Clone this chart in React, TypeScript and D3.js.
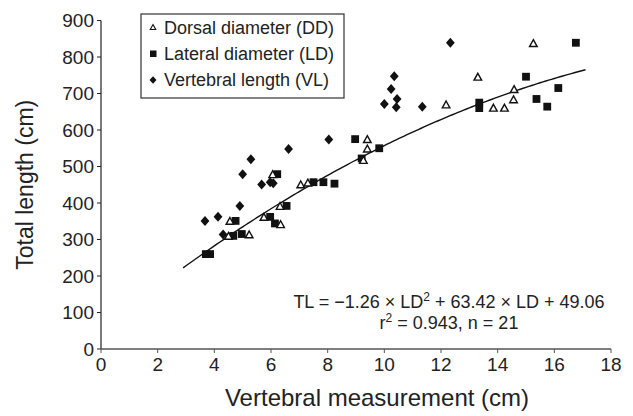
import React from "react";
import * as d3 from "d3";

// Dorsal diameter (DD) – open triangles
const ddX = [4.5, 4.55, 5.23, 5.75, 6.34, 6.32, 6.06, 7.05, 7.3, 9.4, 9.4, 9.26, 12.18, 13.3, 13.85, 14.24, 14.56, 14.58, 15.26];
const ddY = [310, 351, 314, 362, 342, 392, 479, 451, 456, 575, 549, 518, 670, 746, 661, 661, 684, 712, 838];

// Lateral diameter (LD) – filled squares
const ldX = [3.7, 3.85, 4.67, 4.97, 4.75, 5.97, 6.14, 6.55, 6.22, 7.5, 7.85, 8.24, 8.97, 9.2, 9.82, 13.35, 13.35, 15.0, 15.37, 15.75, 16.14, 16.76];
const ldY = [260, 260, 310, 315, 351, 362, 344, 392, 479, 457, 457, 453, 575, 522, 550, 675, 660, 746, 685, 664, 715, 839];

// Vertebral length (VL) – filled diamonds
const vlX = [3.67, 4.13, 4.31, 4.9, 5.0, 5.29, 5.67, 5.97, 6.08, 6.62, 8.04, 10.0, 10.24, 10.35, 10.42, 10.45, 11.34, 12.33];
const vlY = [351, 362, 314, 392, 479, 520, 451, 457, 454, 548, 574, 671, 712, 747, 662, 685, 664, 839];

const xTicks = [0, 2, 4, 6, 8, 10, 12, 14, 16, 18];
const yTicks = [0, 100, 200, 300, 400, 500, 600, 700, 800, 900];
const legendLabels = ["Dorsal diameter (DD)", "Lateral diameter (LD)", "Vertebral length (VL)"];
const fitCoef = [-1.26, 63.42, 49.06];
const fitRange = [2.9, 17.1];

const FONT = "'Liberation Sans', Arial, Helvetica, sans-serif";

function tri(cx: number, cy: number, s: number) {
  const h = s * 0.9;
  return `M${cx},${cy - h / 2}L${cx + s / 2},${cy + h / 2}L${cx - s / 2},${cy + h / 2}Z`;
}
function diamond(cx: number, cy: number, w: number, h: number) {
  return `M${cx},${cy - h}L${cx + w},${cy}L${cx},${cy + h}L${cx - w},${cy}Z`;
}

export default function App() {
  const W = 633, H = 416;
  const x = d3.scaleLinear().domain([0, 18]).range([101, 611]);
  const y = d3.scaleLinear().domain([0, 900]).range([349, 20.5]);

  const fitPts = d3.range(fitRange[0], fitRange[1] + 0.001, 0.1).map((v) => [v, fitCoef[0] * v * v + fitCoef[1] * v + fitCoef[2]] as [number, number]);
  const line = d3.line<[number, number]>().x((d) => x(d[0])).y((d) => y(d[1]));

  return (
    <svg width={W} height={H} style={{ position: "absolute", left: 0, top: 0, background: "#fff" }} fontFamily={FONT}>
      <rect x={0} y={0} width={W} height={H} fill="#fff" />
      {/* axes */}
      <line x1={x(0)} x2={x(0)} y1={y(900)} y2={y(0)} stroke="#222" strokeWidth={1.2} />
      <line x1={x(0)} x2={x(18)} y1={y(0)} y2={y(0)} stroke="#555" strokeWidth={1.6} />
      {yTicks.map((t) => (
        <g key={"y" + t}>
          <line x1={x(0) - 4} x2={x(0)} y1={y(t)} y2={y(t)} stroke="#222" strokeWidth={1} />
          <text x={x(0) - 7} y={y(t)} dy="0.35em" textAnchor="end" fontSize={19} fill="#222">{t}</text>
        </g>
      ))}
      {xTicks.map((t) => (
        <g key={"x" + t}>
          <line x1={x(t)} x2={x(t)} y1={y(0)} y2={y(0) + 4} stroke="#555" strokeWidth={1} />
          <text x={x(t)} y={371} textAnchor="middle" fontSize={19} fill="#222">{t}</text>
        </g>
      ))}
      <text x={377} y={406} textAnchor="middle" fontSize={24} fill="#222">Vertebral measurement (cm)</text>
      <text transform={`translate(33,${(y(0) + y(900)) / 2}) rotate(-90)`} textAnchor="middle" fontSize={23} fill="#222">Total length (cm)</text>

      {/* fit */}
      <path d={line(fitPts) || ""} fill="none" stroke="#111" strokeWidth={1.4} />

      {/* data */}
      {vlX.map((v, i) => (
        <path key={"vl" + i} d={diamond(x(v), y(vlY[i]), 4.4, 5)} fill="#111" />
      ))}
      {ldX.map((v, i) => (
        <rect key={"ld" + i} x={x(v) - 3.9} y={y(ldY[i]) - 3.9} width={7.8} height={7.8} fill="#111" />
      ))}
      {ddX.map((v, i) => (
        <path key={"dd" + i} d={tri(x(v), y(ddY[i]), 7.6)} fill="#fff" stroke="#111" strokeWidth={1.4} />
      ))}

      {/* legend */}
      <rect x={141} y={14} width={203} height={84} fill="#fff" stroke="#333" strokeWidth={1.2} />
      <path d={tri(153, 27, 5.5)} fill="#fff" stroke="#111" strokeWidth={1.1} />
      <rect x={150} y={50.5} width={6.5} height={6.5} fill="#111" />
      <path d={diamond(153, 80, 3.5, 3.8)} fill="#111" />
      {legendLabels.map((l, i) => (
        <text key={l} x={164} y={[28, 54, 80][i]} dy="0.35em" fontSize={18} fill="#222">{l}</text>
      ))}

      {/* equation */}
      <text x={449} y={308} textAnchor="middle" fontSize={18} fill="#222">
        TL = −1.26 × LD<tspan dy={-7} fontSize={12}>2</tspan><tspan dy={7}> + 63.42 × LD + 49.06</tspan>
      </text>
      <text x={449} y={329} textAnchor="middle" fontSize={18} fill="#222">
        r<tspan dy={-7} fontSize={12}>2</tspan><tspan dy={7}> = 0.943, n = 21</tspan>
      </text>
    </svg>
  );
}
